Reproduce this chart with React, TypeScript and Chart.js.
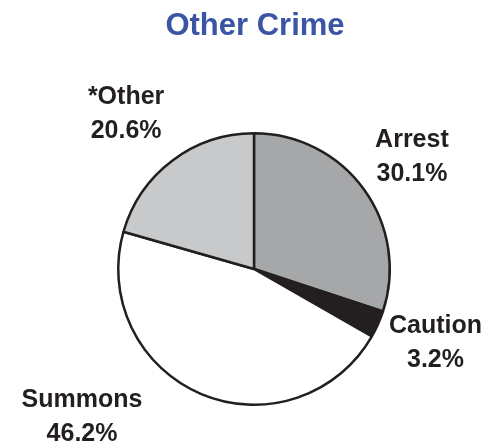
import React, { useEffect, useRef } from "react";
import { Chart, registerables } from "chart.js";

Chart.register(...registerables);

const titleText = "Other Crime";
const categories = ["Arrest", "Caution", "Summons", "*Other"];
const percentages = [30.1, 3.2, 46.2, 20.6];
const sliceColors = ["#a6a7a9", "#231f20", "#ffffff", "#c8c9cb"];

// label placement styles (angle shift in degrees, distance as multiple of radius)
const labelAngleShift = [0.6, -1.8, 26.5, -2.6];
const labelDistance = [1.425, 1.444, 1.67, 1.477];

const labelPlugin = {
  id: "pieLabels",
  afterDraw(chart: any) {
    const ctx = chart.ctx;
    const meta = chart.getDatasetMeta(0);
    ctx.save();
    ctx.font = "bold 25px 'Liberation Sans', Arial, sans-serif";
    ctx.fillStyle = "#231f20";
    ctx.textAlign = "center";
    ctx.textBaseline = "middle";
    meta.data.forEach((arc: any, i: number) => {
      const mid = (arc.startAngle + arc.endAngle) / 2 + (labelAngleShift[i] * Math.PI) / 180;
      const d = arc.outerRadius * labelDistance[i];
      const x = arc.x + Math.cos(mid) * d;
      const y = arc.y + Math.sin(mid) * d;
      ctx.fillText(categories[i], x, y - 17);
      ctx.fillText(percentages[i].toFixed(1) + "%", x, y + 17);
    });
    ctx.font = "bold 31px 'Liberation Sans', Arial, sans-serif";
    ctx.fillStyle = "#3a55a4";
    ctx.fillText(titleText, chart.width / 2 + 11, 26);
    ctx.restore();
  },
};

export default function App() {
  const ref = useRef<HTMLCanvasElement>(null);
  useEffect(() => {
    document.body.style.margin = "0";
    const chart = new Chart(ref.current!, {
      type: "pie",
      data: {
        labels: categories,
        datasets: [
          {
            data: percentages,
            backgroundColor: sliceColors,
            borderColor: "#231f20",
            borderWidth: 2.5,
            borderAlign: "center",
          } as any,
        ],
      },
      options: {
        animation: false,
        responsive: false,
        maintainAspectRatio: false,
        layout: { padding: { left: 117, right: 97, top: 132, bottom: 39 } },
        plugins: {
          legend: { display: false },
          title: { display: false },
          tooltip: { enabled: false },
        },
      },
      plugins: [labelPlugin],
    });
    return () => chart.destroy();
  }, []);
  return (
    <div style={{ width: 488, height: 445, background: "#fff" }}>
      <canvas ref={ref} width={488} height={445} />
    </div>
  );
}
